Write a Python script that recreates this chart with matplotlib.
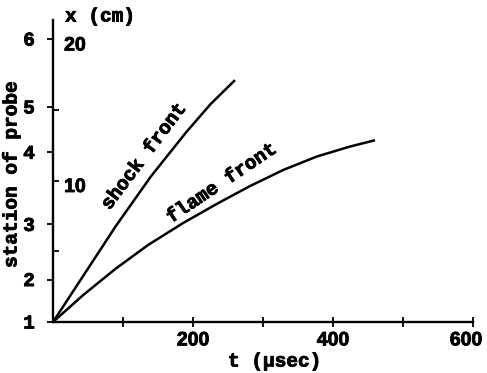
import matplotlib
matplotlib.use("Agg")
import matplotlib.pyplot as plt
import matplotlib.patheffects as pe
from matplotlib.transforms import ScaledTranslation

# values: time in microseconds, distance in cm
t_shock = [0, 45, 90, 140, 190, 225, 260]
x_shock = [0, 3.4, 6.8, 10.3, 13.4, 15.4, 17.1]
t_flame = [0, 43, 89, 136, 186, 234, 281, 329, 377, 424, 460]
x_flame = [0, 1.9, 3.75, 5.45, 7.0, 8.35, 9.6, 10.75, 11.7, 12.4, 12.85]

# probe stations (left labels) and their position in cm
station_labels = ["1", "2", "3", "4", "5", "6"]
station_cm = [0, 3.0, 6.9, 12.0, 15.2, 20.0]
cm_ticks = [5, 10, 15, 20]
cm_labels = ["10", "20"]
t_ticks = [100, 200, 300, 400, 500, 600]
t_labels = ["", "200", "", "400", "", "600"]

FONT = "Liberation Mono"
NUM_FONT = "Liberation Sans"  # mono font has a dotted zero, the scan does not
plt.rcParams["font.family"] = [FONT, "DejaVu Sans Mono"]
plt.rcParams["font.weight"] = "bold"
FS = 14
# scanned typewriter text is heavier than the font, thicken it a bit
heavy = [pe.withStroke(linewidth=0.6, foreground="black")]

fig = plt.figure(figsize=(4.87, 3.73), dpi=100)
ax = fig.add_axes([53 / 487, 51 / 373, 420 / 487, 302 / 373])

ax.plot(t_shock, x_shock, color="black", lw=1.8, solid_capstyle="butt")
ax.plot(t_flame, x_flame, color="black", lw=1.8, solid_capstyle="butt")

ax.set_xlim(0, 600)
ax.set_ylim(0, 21.35)
for side in ["top", "right"]:
    ax.spines[side].set_visible(False)
for side in ["left", "bottom"]:
    ax.spines[side].set_linewidth(1.7)

# x axis
ax.set_xticks(t_ticks)
ax.set_xticklabels(t_labels, fontsize=FS, fontweight="bold", family=NUM_FONT)
ax.tick_params(axis="x", direction="inout", length=7, width=1.3, pad=4)
# the last label sits a little left of its tick in the scan
last = ax.get_xticklabels()[-1]
last.set_transform(last.get_transform() + ScaledTranslation(-0.07, 0, fig.dpi_scale_trans))

# left: stations, right of spine: cm scale
ax.set_yticks(station_cm)
ax.set_yticklabels(station_labels, fontsize=FS, fontweight="bold")
ax.tick_params(axis="y", which="major", direction="out", length=4, width=1.3, pad=9)
ax.set_yticks(cm_ticks, minor=True)
ax.tick_params(axis="y", which="minor", direction="in", length=4, width=1.3)

for lbl in ax.get_xticklabels() + ax.get_yticklabels():
    lbl.set_path_effects(heavy)

for val, lab in zip([10, 20], cm_labels):
    ax.annotate(lab, xy=(0, val), xycoords=("axes fraction", "data"),
                xytext=(8, -5), textcoords="offset points",
                ha="left", va="center", fontsize=FS, fontweight="bold",
                family=NUM_FONT, path_effects=heavy)

fig.text(65 / 487, 1 - 17 / 373, "x (cm)", ha="left", va="center",
         fontsize=FS, fontweight="bold", path_effects=heavy)
fig.text(275 / 487, 1 - 362 / 373, "t (µsec)", ha="center", va="center",
         fontsize=FS, fontweight="bold", path_effects=heavy)
fig.text(12 / 487, 1 - 174 / 373, "station of probe", ha="center", va="center",
         rotation=90, fontsize=FS, fontweight="bold", path_effects=heavy)

ax.text(131, 11.7, "shock front", rotation=53, ha="center", va="center",
        fontsize=FS, fontweight="bold", rotation_mode="anchor", path_effects=heavy)
ax.text(242, 9.8, "flame front", rotation=34, ha="center", va="center",
        fontsize=FS, fontweight="bold", rotation_mode="anchor", path_effects=heavy)

fig.savefig("out.png", dpi=100, facecolor="white")
